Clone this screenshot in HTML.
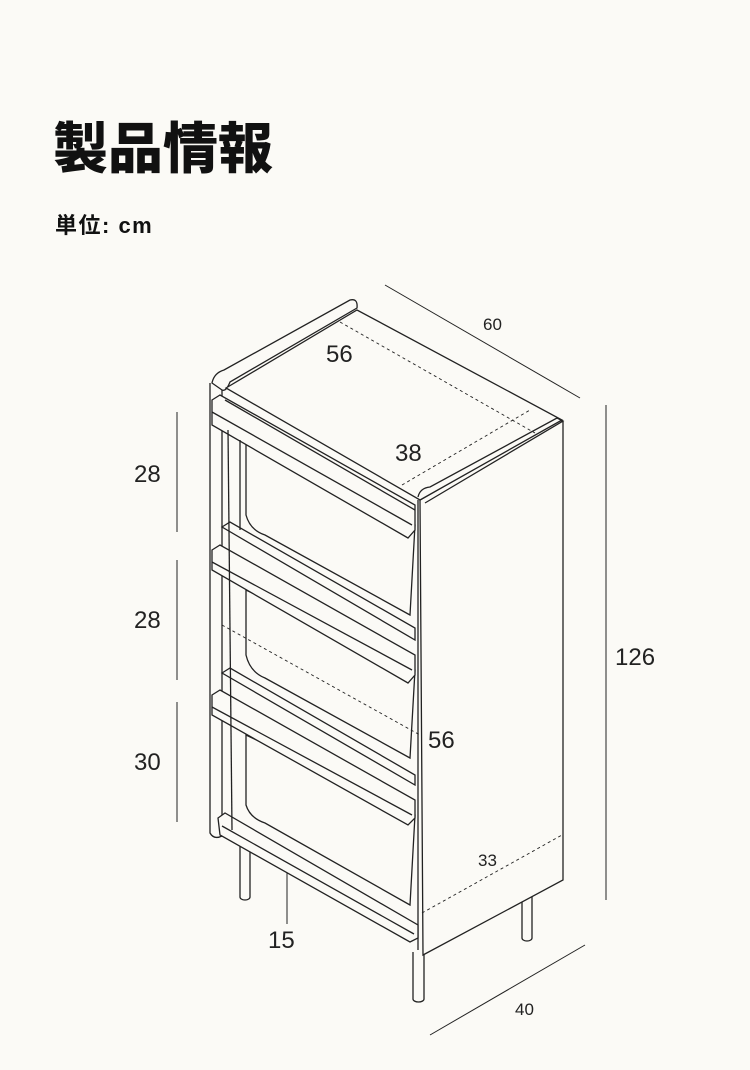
<!DOCTYPE html>
<html><head><meta charset="utf-8"><style>
html,body{margin:0;padding:0;background:#fbfaf6;}
.w{position:relative;width:750px;height:1070px;overflow:hidden;font-family:"Liberation Sans","Noto Sans CJK JP",sans-serif;}
h1{position:absolute;left:53px;top:122px;margin:0;font-size:55px;font-weight:900;color:#111;line-height:1;}
.u{position:absolute;left:55px;top:208px;font-size:22px;font-weight:bold;color:#111;letter-spacing:1.5px;}
svg{position:absolute;left:0;top:0}
</style></head><body><div class="w">
<h1>製品情報</h1>
<div class="u">単位: cm</div>
<svg width="750" height="1070" viewBox="0 0 750 1070" fill="none" stroke="#222" stroke-width="1.3" font-family="Liberation Sans, sans-serif">
<g stroke-width="1">
<line x1="385" y1="285" x2="580" y2="398"/>
<line x1="606" y1="405" x2="606" y2="900"/>
<line x1="430" y1="1035" x2="585" y2="945"/>
<line x1="177" y1="412" x2="177" y2="532"/>
<line x1="177" y1="560" x2="177" y2="680"/>
<line x1="177" y1="702" x2="177" y2="822"/>
<line x1="287" y1="868" x2="287" y2="924"/>
</g>
<g fill="#fbfaf6">
<path d="M240 845 v52 a5 3 0 0 0 10 0 v-52"/>
<path d="M413 952 v47 a5.5 3 0 0 0 11 0 v-47"/>
<path d="M522 893 v45 a5 3 0 0 0 10 0 v-45"/>
</g>
<path d="M420 500 L560 420 L563 422 L563 880 L423 955 Z" fill="#fbfaf6"/>
<line x1="418" y1="500" x2="418" y2="950"/>
<path d="M212 383 Q214 373 224 370 L350 300 Q358 298 357 308 L230 382 Q226 392 222 390 Z" fill="#fbfaf6"/>
<path d="M226 388 L357 310 L562 420 L420 500 Z" fill="#fbfaf6"/>
<path d="M418 497 Q420 488 430 487 L557 418 L563 421 L425 503"/>
<path d="M210 383 V833 Q214 840 222 836 V390"/>
<g fill="#fbfaf6">
<path d="M246 425 L246 515 Q250 530 265 535 L410 615 L415 525 Z"/>
<path d="M212 400 L220 395 L415 505 L415 530 L408 538 L212 425 Z"/>
<line x1="212" y1="412" x2="412" y2="525"/>
<line x1="225" y1="400" x2="415" y2="510"/>
<path d="M222 527 L230 522 L415 628 L415 640 Z"/>
<path d="M246 590 L246 655 Q250 672 265 678 L410 758 L415 670 Z"/>
<path d="M212 550 L220 545 L415 655 L415 675 L408 683 L212 570 Z"/>
<line x1="212" y1="562" x2="412" y2="670"/>
<path d="M222 673 L230 668 L415 775 L415 785 Z"/>
<path d="M246 735 L246 805 Q250 818 265 823 L410 905 L415 815 Z"/>
<path d="M212 695 L220 690 L415 800 L415 818 L408 825 L212 715 Z"/>
<line x1="212" y1="707" x2="412" y2="815"/>
<path d="M218 818 L225 813 L418 925 L418 938 L410 942 L220 835 Z"/>
<line x1="222" y1="826" x2="414" y2="934"/>
</g>
<line x1="228" y1="430" x2="232" y2="830"/>
<line x1="240" y1="440" x2="240" y2="530"/>
<g stroke-width="0.9" stroke-dasharray="3,3">
<line x1="340" y1="322" x2="535" y2="433"/>
<line x1="402" y1="485" x2="530" y2="410"/>
<line x1="222" y1="625" x2="420" y2="735"/>
<line x1="422" y1="913" x2="562" y2="835"/>
</g>
<g fill="#222" stroke="none" font-size="24">
<text x="326" y="362">56</text>
<text x="395" y="461">38</text>
<text x="428" y="748">56</text>
<text x="134" y="482">28</text>
<text x="134" y="628">28</text>
<text x="134" y="770">30</text>
<text x="268" y="948">15</text>
<text x="615" y="665">126</text>
<text x="483" y="330" font-size="17">60</text>
<text x="478" y="866" font-size="17">33</text>
<text x="515" y="1015" font-size="17">40</text>
</g>
</svg>
</div></body></html>
